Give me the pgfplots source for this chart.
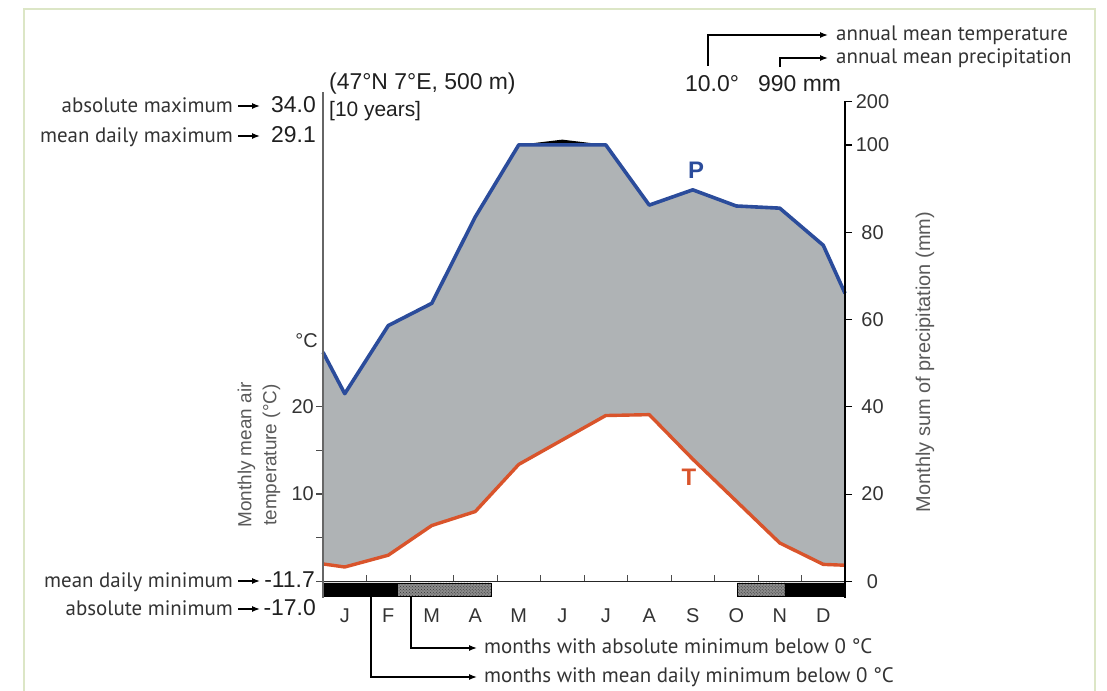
\documentclass[border=0pt]{standalone}
\usepackage{fontspec}
\setmainfont{Liberation Sans}
\newfontfamily\annfont{PT Sans}
\usepackage{pgfplots}
\usepackage{pgfplotstable}
\pgfplotsset{compat=1.18}
\usepgfplotslibrary{fillbetween}
\usetikzlibrary{patterns,arrows.meta}
\definecolor{pblue}{HTML}{2B4C9B}
\definecolor{tred}{HTML}{D9542B}
\definecolor{fillgray}{HTML}{AFB3B5}
\definecolor{framegreen}{HTML}{DCE6C6}
\definecolor{txtgray}{HTML}{333333}
\definecolor{hatchgray}{HTML}{8C8C8C}

% month position, temperature (deg C), precipitation (mm)
\pgfplotstableread{
x    T     P
0    2.00  52.5
0.5  1.65  43.0
1.5  3.00  58.6
2.5  6.40  63.7
3.5  8.00  83.5
4.5  13.40 100.0
5.5  16.20 112.0
6.5  19.00 100.0
7.5  19.10 86.2
8.5  14.00 89.7
9.5  9.20  86.0
10.5 4.40  85.5
11.5 1.95  77.0
12   1.85  66.0
}\climate

\begin{document}
\begin{tikzpicture}[
  txt/.style={inner sep=0pt, text=txtgray},
  ann/.style={txt, font=\annfont\fontsize{21}{25}\selectfont},
  hdr/.style={inner sep=0pt, text=black!88, font=\fontsize{23}{27}\selectfont},
  arr/.style={line width=1.3bp, -{Latex[length=8bp,width=6bp]}}]
\begin{scope}[x=1bp,y=1bp]
\path[use as bounding box] (0,0) rectangle (1107,691);
\draw[framegreen, line width=1.5bp] (24,0) -- (24,{691-9}) -- (1095,{691-9}) -- (1095,0);
\end{scope}

% main axis (temperature scale, left)
\begin{axis}[at={(323bp,93bp)}, anchor=south west, scale only axis,
  width=522bp, height=505.5bp,
  xmin=0, xmax=12, ymin=-3.8, ymax=112,
  axis on top,
  axis y line*=left, axis x line*=bottom,
  x axis line style={draw=none}, xtick style={draw=none},
  y axis line style={line width=2.8bp, draw=black!60},
  ytick={0,10,20,30,40}, yticklabels={,,10,,20},
  ytick style={line width=1.2bp, draw=black!70},
  tick align=outside, major tick length=7bp,
  yticklabel style={font=\fontsize{20}{24}\selectfont, text=txtgray, inner xsep=2bp},
  xtick={0.5,1.5,...,11.5},
  xticklabels={J,F,M,A,M,J,J,A,S,O,N,D},
  xticklabel style={font=\fontsize{20}{24}\selectfont, text=txtgray},
  clip=false]
\addplot[name path=T, draw=none, forget plot] table[x=x, y expr={2*\thisrow{T}}] {\climate};
\addplot[name path=Pc, draw=none, forget plot] table[x=x, y expr={min(\thisrow{P},100)+max(\thisrow{P}-100,0)/10}] {\climate};
\addplot[name path=Pl, draw=none, forget plot] table[x=x, y expr={min(\thisrow{P},100)}] {\climate};
\addplot[fill=black, draw=none] fill between[of=Pc and T];
\addplot[fill=fillgray, draw=none] fill between[of=Pl and T];
% frost months
\addplot[fill=black, draw=black, line width=0.8bp] coordinates {(0,-0.35) (1.72,-0.35) (1.72,-3.35) (0,-3.35) (0,-0.35)};
\addplot[fill=hatchgray, draw=none] coordinates {(1.72,-0.35) (3.86,-0.35) (3.86,-3.35) (1.72,-3.35) (1.72,-0.35)};
\addplot[pattern=crosshatch dots, pattern color=black!80, draw=black, line width=0.8bp] coordinates {(1.72,-0.35) (3.86,-0.35) (3.86,-3.35) (1.72,-3.35) (1.72,-0.35)};
\addplot[fill=hatchgray, draw=none] coordinates {(9.52,-0.35) (10.62,-0.35) (10.62,-3.35) (9.52,-3.35) (9.52,-0.35)};
\addplot[pattern=crosshatch dots, pattern color=black!80, draw=black, line width=0.8bp] coordinates {(9.52,-0.35) (10.62,-0.35) (10.62,-3.35) (9.52,-3.35) (9.52,-0.35)};
\addplot[fill=black, draw=black, line width=0.8bp] coordinates {(10.62,-0.35) (12,-0.35) (12,-3.35) (10.62,-3.35) (10.62,-0.35)};
\draw[black!85, line width=1.3bp] (axis cs:0,0) -- (axis cs:12,0);
\pgfplotsinvokeforeach{1,...,11}{\draw[black!70, line width=1bp] (axis cs:#1,0) -- (axis cs:#1,1.5);}
\addplot[pblue, line width=3.6bp, line join=round] table[x=x, y expr={min(\thisrow{P},100)}] {\climate};
\addplot[tred, line width=3.4bp, line join=round] table[x=x, y expr={2*\thisrow{T}}] {\climate};
\draw[black!60, line width=2.8bp] (axis cs:0,-3.8) -- (axis cs:0,112);
\end{axis}

% right axis (precipitation scale)
\begin{axis}[at={(323bp,93bp)}, anchor=south west, scale only axis,
  width=522bp, height=496.7bp,
  xmin=0, xmax=12, ymin=-3.8, ymax=110,
  axis y line*=right, axis x line=none,
  y axis line style={line width=1.5bp, black},
  ytick={0,20,40,60,80,100,110}, yticklabels={0,20,40,60,80,100,200},
  tick align=outside, major tick length=7bp,
  ytick style={black, line width=1.2bp},
  yticklabel style={font=\fontsize{20}{24}\selectfont, text=txtgray, text width=34bp, align=center}]
\addplot[draw=none] coordinates {(0,0) (12,0)};
\end{axis}

\begin{scope}[x=1bp,y=1bp]
% curve labels
\node[inner sep=0pt, text=pblue, font=\bfseries\fontsize{24}{28}\selectfont] at (696,{691-170}) {P};
\node[inner sep=0pt, text=tred, font=\bfseries\fontsize{24}{28}\selectfont] at (689,{691-477}) {T};

% axis titles
\node[inner sep=0pt, text=black!65, rotate=90, align=center, font=\fontsize{19}{25}\selectfont] at (259,{691-455}) {Monthly mean air\\temperature (°C)};
\node[inner sep=0pt, text=black!65, rotate=90, font=\fontsize{20}{24}\selectfont] at (925,{691-362}) {Monthly sum of precipitation (mm)};
\node[txt, anchor=base east, font=\fontsize{20}{24}\selectfont] at (318,{691-348}) {°C};

% header
\node[hdr, anchor=base west] at (329,{691-89.5}) {(47°N 7°E, 500 m)};
\node[hdr, anchor=base west, font=\fontsize{21}{25}\selectfont] at (329,{691-117}) {[10 years]};
\node[hdr, anchor=base west] at (685,{691-91.5}) {10.0°};
\node[hdr, anchor=base west] at (758,{691-91.5}) {990 mm};
\draw[arr] (708,{691-66}) -- (708,{691-35}) -- (828,{691-35});
\draw[arr] (780,{691-67}) -- (780,{691-58}) -- (828,{691-58});
\node[ann, anchor=base west] at (836,{691-40.5}) {annual mean temperature};
\node[ann, anchor=base west] at (836,{691-63.5}) {annual mean precipitation};

% left annotations
\node[ann, anchor=base east] at (233,{691-113}) {absolute maximum};
\draw[arr] (238,{691-106}) -- (260,{691-106});
\node[hdr, anchor=base east] at (316,{691-113}) {34.0};
\node[ann, anchor=base east] at (233,{691-143}) {mean daily maximum};
\draw[arr] (238,{691-136}) -- (260,{691-136});
\node[hdr, anchor=base east] at (316,{691-143}) {29.1};
\node[ann, anchor=base east] at (233,{691-588}) {mean daily minimum};
\draw[arr] (238,{691-581}) -- (260,{691-581});
\node[hdr, anchor=base east] at (315,{691-588}) {-11.7};
\node[ann, anchor=base east] at (233,{691-616}) {absolute minimum};
\draw[arr] (238,{691-609}) -- (260,{691-609});
\node[hdr, anchor=base east] at (316,{691-616}) {-17.0};

% bottom annotations
\draw[arr] (411,{691-597}) -- (411,{691-648}) -- (477,{691-648});
\draw[arr] (371,{691-597}) -- (371,{691-677}) -- (477,{691-677});
\node[ann, anchor=base west] at (484,{691-654}) {months with absolute minimum below 0 °C};
\node[ann, anchor=base west] at (484,{691-683}) {months with mean daily minimum below 0 °C};
\end{scope}
\end{tikzpicture}
\end{document}
